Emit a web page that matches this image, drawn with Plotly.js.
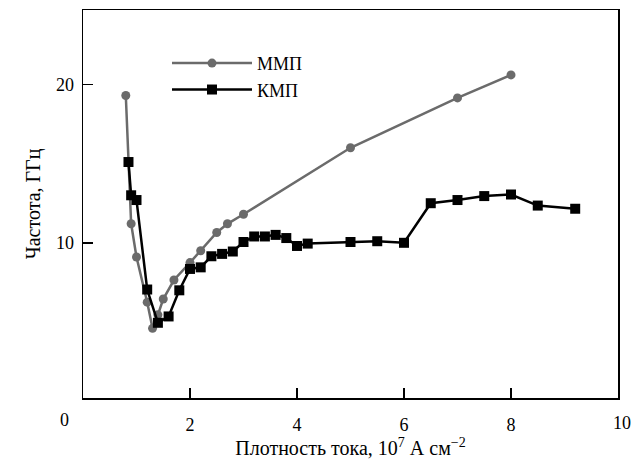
<!DOCTYPE html>
<html>
<head>
<meta charset="utf-8">
<script src="https://cdn.plot.ly/plotly-3.0.1.min.js"></script>
<style>html,body{margin:0;padding:0;background:#fff;}#chart{width:643px;height:461px;}</style>
</head>
<body>
<div id="chart"></div>
<script>
// ММП series
const mmpX = [0.8, 0.9, 1.0, 1.2, 1.3, 1.4, 1.5, 1.7, 2.0, 2.2, 2.5, 2.7, 3.0, 5.0, 7.0, 8.0];
const mmpY = [19.3, 11.2, 9.1, 6.25, 4.6, 5.45, 6.45, 7.65, 8.75, 9.5, 10.65, 11.2, 11.8, 16.0, 19.15, 20.6];
// КМП series
const kmpX = [0.85, 0.9, 1.0, 1.2, 1.4, 1.6, 1.8, 2.0, 2.2, 2.4, 2.6, 2.8, 3.0, 3.2, 3.4, 3.6, 3.8, 4.0, 4.2, 5.0, 5.5, 6.0, 6.5, 7.0, 7.5, 8.0, 8.5, 9.2];
const kmpY = [15.1, 13.0, 12.7, 7.05, 4.95, 5.35, 7.0, 8.35, 8.45, 9.15, 9.3, 9.45, 10.05, 10.4, 10.4, 10.5, 10.3, 9.8, 9.95, 10.05, 10.1, 10.0, 12.5, 12.7, 12.95, 13.05, 12.35, 12.15];
const xTicks = [2, 4, 6, 8];
const yTicks = [10, 20];
const names = ['ММП', 'КМП'];

const font = {family: '"Liberation Serif", serif', size: 18, color: '#000'};
const titleFont = {family: '"Liberation Serif", serif', size: 20, color: '#000'};

const traces = [
  {x: mmpX, y: mmpY, name: names[0], mode: 'lines+markers', type: 'scatter',
   line: {color: '#6b6b6b', width: 2.5}, marker: {symbol: 'circle', size: 9, color: '#6b6b6b'}},
  {x: kmpX, y: kmpY, name: names[1], mode: 'lines+markers', type: 'scatter',
   line: {color: '#000', width: 2.5}, marker: {symbol: 'square', size: 10, color: '#000'}}
];

const layout = {
  width: 643, height: 461,
  margin: {l: 83, r: 25, t: 10, b: 63},
  paper_bgcolor: '#fff', plot_bgcolor: '#fff',
  font: font,
  showlegend: true,
  legend: {x: 0.157, y: 0.91, xanchor: 'left', yanchor: 'top', bgcolor: 'rgba(0,0,0,0)',
           font: font, itemwidth: 80, tracegroupgap: 0},
  xaxis: {range: [0, 10], tickvals: xTicks, ticktext: xTicks.map(String),
          ticks: 'inside', ticklen: 10, tickwidth: 1.5, tickcolor: '#000',
          showline: true, linecolor: '#000', linewidth: 1.5, mirror: true,
          showgrid: false, zeroline: false, ticklabelstandoff: 10,
          title: {text: 'Плотность тока, 10<sup>7</sup> А см<sup>−2</sup>', font: titleFont, standoff: 0}},
  yaxis: {range: [0.2, 24.7], tickvals: yTicks, ticktext: yTicks.map(String),
          ticks: 'inside', ticklen: 10, tickwidth: 1.5, tickcolor: '#000',
          showline: true, linecolor: '#000', linewidth: 1.5, mirror: true,
          showgrid: false, zeroline: false, ticklabelstandoff: 4,
          title: {text: 'Частота, ГГц', font: titleFont, standoff: 10}},
  annotations: [
    {text: '0', xref: 'paper', yref: 'paper', x: 0, y: 0, showarrow: false,
     xanchor: 'center', yanchor: 'middle', xshift: -19, yshift: -22, font: font},
    {text: '10', xref: 'paper', yref: 'paper', x: 1, y: 0, showarrow: false,
     xanchor: 'center', yanchor: 'middle', xshift: 4, yshift: -25, font: font}
  ]
};

Plotly.newPlot('chart', traces, layout, {displayModeBar: false, staticPlot: true});
</script>
</body>
</html>
